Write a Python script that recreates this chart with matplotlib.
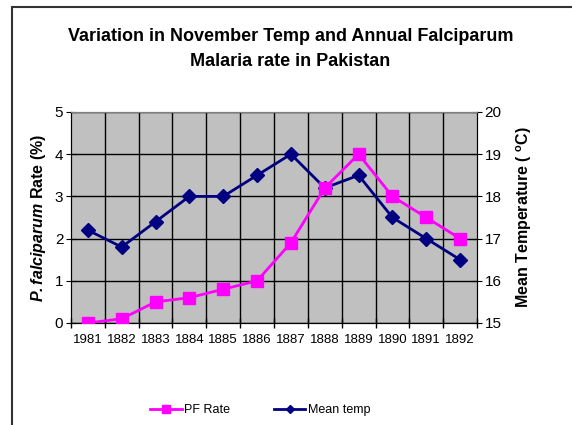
import numpy as np
import matplotlib
matplotlib.use('Agg')
import matplotlib.pyplot as plt
from matplotlib.patches import Rectangle

plt.rcParams['font.family'] = ['Liberation Sans', 'DejaVu Sans']
plt.rcParams['mathtext.fontset'] = 'custom'
plt.rcParams['mathtext.rm'] = 'Liberation Sans'
plt.rcParams['mathtext.bf'] = 'Liberation Sans:bold'
plt.rcParams['mathtext.it'] = 'Liberation Sans:italic'
plt.rcParams['mathtext.bfit'] = 'Liberation Sans:bold:italic'

# Daten
years = ['1981', '1882', '1883', '1884', '1885', '1886',
         '1887', '1888', '1889', '1890', '1891', '1892']
pf_rate = [0.0, 0.1, 0.5, 0.6, 0.8, 1.0, 1.9, 3.2, 4.0, 3.0, 2.5, 2.0]
mean_temp = [17.2, 16.8, 17.4, 18.0, 18.0, 18.5, 19.0, 18.2, 18.5, 17.5, 17.0, 16.5]

x = np.arange(len(years))

fig = plt.figure(figsize=(5.72, 4.25), dpi=100)
ax = fig.add_axes([0.124, 0.24, 0.71, 0.4965])
ax2 = ax.twinx()

# Hintergrund und Gitter auf ax2 (unten), ax liegt oben
ax.set_zorder(ax2.get_zorder() + 1)
ax.patch.set_visible(False)
ax2.patch.set_visible(True)
ax2.set_facecolor('#C0C0C0')

ax2.plot(x, mean_temp, color='#000080', marker='D', markersize=7,
         linewidth=2, label='Mean temp', zorder=3)
ax.plot(x, pf_rate, color='#FF00FF', marker='s', markersize=8,
        linewidth=2, label='PF Rate', zorder=3)

ax.set_xlim(-0.5, len(years) - 0.5)
ax.set_ylim(0, 5)
ax2.set_ylim(15, 20)
ax.set_yticks(range(0, 6))
ax2.set_yticks(range(15, 21))

# Kategoriegrenzen als Haupt-Ticks, Beschriftung mittig
bounds = np.arange(len(years) + 1) - 0.5
ax.set_xticks(bounds)
ax.set_xticklabels([])
ax.set_xticks(x, minor=True)
ax.set_xticklabels(years, minor=True, fontsize=9.5)
ax.tick_params(axis='x', which='minor', length=0, pad=8)
ax.tick_params(axis='x', which='major', direction='inout', length=7, width=1)
ax.tick_params(axis='y', direction='inout', length=7, labelsize=11, pad=2)
ax2.tick_params(axis='y', direction='inout', length=7, labelsize=11, pad=2)

ax2.yaxis.grid(True, color='black', linewidth=1)
ax2.vlines(bounds[1:-1], 15, 20, color='black', linewidth=1, zorder=1)
ax2.set_axisbelow(True)

for a in (ax, ax2):
    for s in a.spines.values():
        s.set_color('black')
ax.spines['top'].set_color('#808080')
ax2.spines['top'].set_color('#808080')

ax.set_ylabel(r'$\mathbfit{P.falciparum}$ Rate (%)', fontsize=11.5,
              fontweight='bold', labelpad=5)
ax2.set_ylabel(r'Mean Temperature ( $^{\mathbf{o}}$C)', fontsize=11.5,
               fontweight='bold', labelpad=9)

fig.suptitle('Variation in November Temp and Annual Falciparum\nMalaria rate in Pakistan',
             x=0.508, y=0.934, fontsize=13, fontweight='bold', linespacing=1.6)

h1, l1 = ax.get_legend_handles_labels()
h2, l2 = ax2.get_legend_handles_labels()
fig.legend(h1 + h2, l1 + l2, loc='center', bbox_to_anchor=(0.455, 0.035),
           ncol=2, frameon=False, fontsize=9, handlelength=2.5,
           columnspacing=3.5, handletextpad=0.2, markerscale=0.65)

# Rahmen des Diagramms
fig.add_artist(Rectangle((12 / 572, -0.5), 2, 0.5 + 1 - 7 / 425,
                         transform=fig.transFigure, fill=False,
                         edgecolor='#333333', linewidth=1.5, clip_on=False))

fig.savefig('out.png', dpi=100)
